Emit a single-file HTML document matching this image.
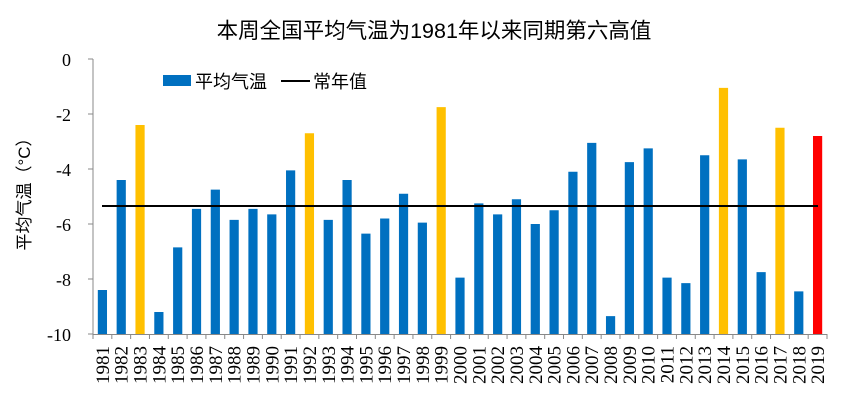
<!DOCTYPE html>
<html><head><meta charset="utf-8"><style>
html,body{margin:0;padding:0;background:#fff;}
svg{display:block;}
</style></head><body>
<svg width="860" height="415" viewBox="0 0 860 415" xmlns="http://www.w3.org/2000/svg">
<text x="434" y="38" text-anchor="middle" font-family="Liberation Sans, Noto Sans CJK SC, sans-serif" font-size="21.5" fill="#000">本周全国平均气温为1981年以来同期第六高值</text>
<g id="bars"></g>
<line x1="93" y1="59" x2="93" y2="335" stroke="#888" stroke-width="1"/>
<line x1="93" y1="334.5" x2="827" y2="334.5" stroke="#888" stroke-width="1"/>
<g id="ticks" stroke="#888" stroke-width="1"></g>
<g font-family="Liberation Serif, serif" font-size="18" text-anchor="end" fill="#000">
<text x="71" y="66">0</text>
<text x="71" y="121">-2</text>
<text x="71" y="176">-4</text>
<text x="71" y="231">-6</text>
<text x="71" y="286">-8</text>
<text x="71" y="341">-10</text>
</g>
<text transform="translate(30,190) rotate(-90)" text-anchor="middle" font-family="Liberation Sans, Noto Sans CJK SC, sans-serif" font-size="17" fill="#000">平均气温（°C）</text>
<rect x="163" y="75" width="28" height="11" fill="#0070C0"/>
<text x="195" y="88" font-family="Liberation Sans, Noto Sans CJK SC, sans-serif" font-size="18" fill="#000">平均气温</text>
<line x1="281" y1="81" x2="310" y2="81" stroke="#000" stroke-width="2"/>
<text x="313" y="88" font-family="Liberation Sans, Noto Sans CJK SC, sans-serif" font-size="18" fill="#000">常年值</text>
<g id="labels" font-family="Liberation Serif, serif" font-size="19" fill="#000"></g>
<line x1="102" y1="206" x2="818" y2="206" stroke="#000" stroke-width="2"/>
<script>
(function(){
var v=[-8.4,-4.4,-2.4,-9.2,-6.85,-5.45,-4.75,-5.85,-5.45,-5.65,-4.05,-2.7,-5.85,-4.4,-6.35,-5.8,-4.9,-5.95,-1.75,-7.95,-5.25,-5.65,-5.1,-6.0,-5.5,-4.1,-3.05,-9.35,-3.75,-3.25,-7.95,-8.15,-3.5,-1.05,-3.65,-7.75,-2.5,-8.45,-2.8];
var gold=[1983,1992,1999,2014,2017];
var ns="http://www.w3.org/2000/svg";
var bars=document.getElementById("bars"),ticks=document.getElementById("ticks"),labels=document.getElementById("labels");
var step=734/39;
for(var i=0;i<39;i++){
 var yr=1981+i,cx=93+step*(i+0.5);
 var ty=59+(-v[i])*27.5;
 var r=document.createElementNS(ns,"rect");
 r.setAttribute("x",cx-4.6);r.setAttribute("width",9.2);
 r.setAttribute("y",ty);r.setAttribute("height",334.5-ty);
 r.setAttribute("fill",yr==2019?"#FF0000":(gold.indexOf(yr)>=0?"#FFC000":"#0070C0"));
 bars.appendChild(r);
 var t=document.createElementNS(ns,"text");
 t.setAttribute("transform","translate("+(cx+6.5)+",346) rotate(-90)");
 t.setAttribute("text-anchor","end");
 t.textContent=yr;labels.appendChild(t);
}
for(var i=0;i<=39;i++){
 var x=93+step*i;
 var l=document.createElementNS(ns,"line");
 l.setAttribute("x1",x);l.setAttribute("x2",x);l.setAttribute("y1",334);l.setAttribute("y2",339);
 ticks.appendChild(l);
}
for(var k=0;k<=5;k++){
 var y=59+k*55;
 var l=document.createElementNS(ns,"line");
 l.setAttribute("x1",88);l.setAttribute("x2",93);l.setAttribute("y1",y);l.setAttribute("y2",y);
 ticks.appendChild(l);
}
})();
</script>
</svg>
</body></html>
